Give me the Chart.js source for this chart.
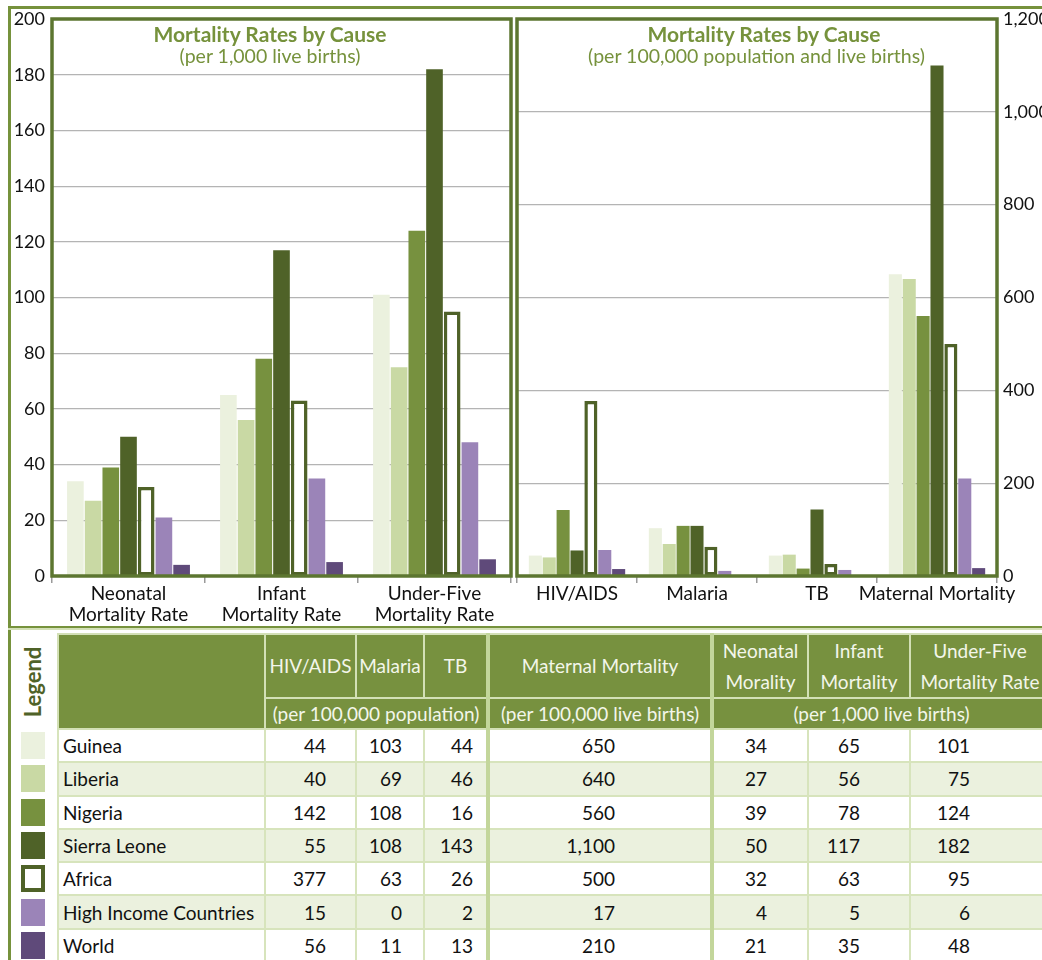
<!DOCTYPE html>
<html><head><meta charset="utf-8">
<script src="https://cdn.jsdelivr.net/npm/chart.js@4.4.1/dist/chart.umd.min.js"></script>
<style>
html,body{margin:0;padding:0;background:#fff;width:1042px;height:960px;overflow:hidden;font-family:Lato,'Open Sans',sans-serif;}
#wrap{position:relative;width:1042px;height:960px;overflow:hidden;}
.abs{position:absolute;}
.ttl{position:absolute;text-align:center;color:#76923c;white-space:nowrap;}
.ttl b{display:block;font-size:21px;font-weight:700;line-height:22px;}
.ttl span{display:block;font-size:19.5px;line-height:22px;}
#tbl{position:absolute;left:57px;top:633px;border-collapse:collapse;table-layout:fixed;width:992px;font-size:19px;color:#111;}
#tbl th{background:#77913f;color:#f3f6ea;font-weight:400;border:2px solid #d3e0b6;padding:0;text-align:center;white-space:nowrap;line-height:22px;}
#tbl th.two{line-height:31px;}
#tbl td{border:2px solid #d7e4bc;padding:0;height:31.3px;white-space:nowrap;}
#tbl td.num{text-align:right;}
#tbl td.nm{padding-left:4px;}
#tbl .g{border-left:4px solid #c3d69b;}
#tbl tr.alt td{background:#ebf1de;}
.sw{position:absolute;left:21px;width:24px;height:27px;box-sizing:border-box;}
</style></head>
<body><div id="wrap">
<div class="abs" style="left:8px;top:6px;width:1040px;height:3px;background:#76923c"></div>
<div class="abs" style="left:8px;top:6px;width:3px;height:960px;background:#76923c"></div>
<div class="abs" style="left:8px;top:626px;width:1040px;height:2px;background:#76923c"></div>
<div class="abs" style="left:8px;top:628px;width:1040px;height:2px;background:#d3e0b6"></div>
<canvas id="cL" class="abs" style="left:12px;top:0px;width:503px;height:625px" width="503" height="625"></canvas>
<canvas id="cR" class="abs" style="left:505px;top:0px;width:537px;height:625px" width="537" height="625"></canvas>
<div class="ttl" style="left:150px;width:240px;top:23px"><b>Mortality Rates by Cause</b><span>(per 1,000 live births)</span></div>
<div class="ttl" style="left:586px;width:356px;top:23px"><b>Mortality Rates by Cause</b><span style="margin-left:-15px">(per 100,000 population and live births)</span></div>
<div class="abs" style="left:-3px;top:670px;width:72px;height:24px;transform:rotate(-90deg);color:#4f6228;font-weight:700;font-size:22px;text-align:center;line-height:24px">Legend</div>
<div id="legend"></div>
<table id="tbl"></table>
</div>
<script>
// ---- data ----
const countries = ["Guinea","Liberia","Nigeria","Sierra Leone","Africa","High Income Countries","World"];
const hivAids   = [44, 40, 142, 55, 377, 15, 56];
const malaria   = [103, 69, 108, 108, 63, 0, 11];
const tb        = [44, 46, 16, 143, 26, 2, 13];
const maternal  = [650, 640, 560, 1100, 500, 17, 210];
const neonatal  = [34, 27, 39, 50, 32, 4, 21];
const infant    = [65, 56, 78, 117, 63, 5, 35];
const underFive = [101, 75, 124, 182, 95, 6, 48];
const leftCategories  = [["Neonatal","Mortality Rate"],["Infant","Mortality Rate"],["Under-Five","Mortality Rate"]];
const rightCategories = ["HIV/AIDS","Malaria","TB","Maternal Mortality"];
const leftTicks  = [0,20,40,60,80,100,120,140,160,180,200];
const rightTicks = [0,200,400,600,800,1000,1200];
// order in which the countries are drawn as bars (as in the reference picture)
const chartOrder = [0,1,2,3,4,6,5];

// ---- styles ----
const barFill   = ['#ebf1de','#c9d9a4','#77913f','#4f6228','#ffffff','#9b84b8','#5f4a7a'];
const barBorder = ['#ebf1de','#c9d9a4','#77913f','#4f6228','#4f6228','#9b84b8','#5f4a7a'];
const barBW     = [0,0,0,0,3.5,0,0];
const swatchFill = ['#ebf1de','#c9d9a4','#77913f','#4f6228','#ffffff','#9b84b8','#5f4a7a'];

const boxPlugin = {id:'box', afterDatasetsDraw(c){const a=c.chartArea,x=c.ctx;x.save();x.strokeStyle='#5c7630';x.lineWidth=3.5;x.strokeRect(a.left,a.top,a.right-a.left,a.bottom-a.top);x.restore();}};

function makeSets(arrs){
  return chartOrder.map((ci,k)=>({label:countries[ci], data:arrs.map(a=>a[ci]),
    backgroundColor:barFill[k], borderColor:barBorder[k], borderWidth:barBW[k], borderSkipped:false,
    categoryPercentage:0.81, barPercentage:0.94}));
}
const xFont = {size:19, family:'Lato', lineHeight:1.12};
const yFont = {size:18, family:'Lato'};

new Chart(document.getElementById('cL'), {
  type:'bar',
  data:{labels:leftCategories, datasets:makeSets([neonatal,infant,underFive])},
  options:{responsive:false, animation:false, devicePixelRatio:1,
    layout:{padding:{top:19,right:4,left:0,bottom:0}},
    plugins:{legend:{display:false},tooltip:{enabled:false}},
    scales:{
      x:{grid:{offset:true,drawOnChartArea:false,drawTicks:true,tickLength:7,color:'#9a9a9a',lineWidth:1.5},
         border:{display:false}, ticks:{color:'#111',font:xFont,padding:0,maxRotation:0,autoSkip:false},
         afterFit(s){s.height=49;}},
      y:{min:leftTicks[0],max:leftTicks[leftTicks.length-1],
         afterBuildTicks(s){s.ticks=leftTicks.map(v=>({value:v}));},
         ticks:{color:'#111',font:yFont,padding:7},
         grid:{color:'#b4b4b4',lineWidth:1.2,drawTicks:false}, border:{display:false},
         afterFit(s){s.width=40;}}
    }},
  plugins:[boxPlugin]
});

new Chart(document.getElementById('cR'), {
  type:'bar',
  data:{labels:rightCategories, datasets:makeSets([hivAids,malaria,tb,maternal])},
  options:{responsive:false, animation:false, devicePixelRatio:1,
    layout:{padding:{top:19,right:0,left:12,bottom:0}},
    plugins:{legend:{display:false},tooltip:{enabled:false}},
    scales:{
      x:{grid:{offset:true,drawOnChartArea:false,drawTicks:true,tickLength:7,color:'#9a9a9a',lineWidth:1.5},
         border:{display:false}, ticks:{color:'#111',font:xFont,padding:0,maxRotation:0,autoSkip:false},
         afterFit(s){s.height=49;}},
      y:{position:'right',min:rightTicks[0],max:rightTicks[rightTicks.length-1],
         afterBuildTicks(s){s.ticks=rightTicks.map(v=>({value:v}));},
         ticks:{color:'#111',font:yFont,padding:6},
         grid:{color:'#b4b4b4',lineWidth:1.2,drawTicks:false}, border:{display:false},
         afterFit(s){s.width=45;}}
    }},
  plugins:[boxPlugin]
});

// ---- legend swatches ----
const leg = document.getElementById('legend');
countries.forEach((c,i)=>{
  const d=document.createElement('div'); d.className='sw';
  d.style.top=(732+i*33.3)+'px'; d.style.background=swatchFill[i];
  if(i===4) d.style.border='4px solid #4f6228';
  leg.appendChild(d);
});

// ---- table ----
const colW = [207,91,68,64,224,96,102,140];
const padR = [0,29,21,13,95,40,49,79];
const fmt = v=>v.toLocaleString('en-US');
let h = '<colgroup>'+colW.map(w=>`<col style="width:${w}px">`).join('')+'</colgroup>';
h += `<tr style="height:61px"><th rowspan="2"></th><th>HIV/AIDS</th><th>Malaria</th><th>TB</th>
<th class="g">Maternal Mortality</th><th class="g two">Neonatal<br>Morality</th>
<th class="two">Infant<br>Mortality</th><th class="two">Under-Five<br>Mortality Rate</th></tr>`;
h += `<tr style="height:31px"><th colspan="3">(per 100,000 population)</th><th class="g">(per 100,000 live births)</th><th class="g" colspan="3">(per 1,000 live births)</th></tr>`;
countries.forEach((c,i)=>{
  const vals=[hivAids[i],malaria[i],tb[i],maternal[i],neonatal[i],infant[i],underFive[i]];
  h += `<tr class="${i%2?'alt':''}"><td class="nm">${c}</td>`+vals.map((v,k)=>`<td class="num${(k===3||k===4)?' g':''}" style="padding-right:${padR[k+1]}px">${fmt(v)}</td>`).join('')+'</tr>';
});
document.getElementById('tbl').innerHTML = h;
</script>
</body></html>
